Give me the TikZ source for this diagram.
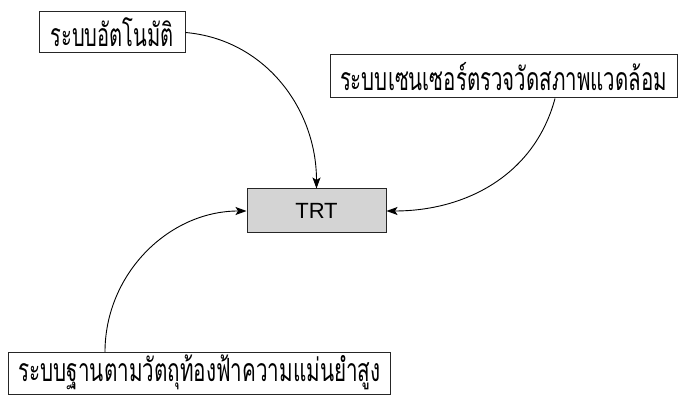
\documentclass[tikz,border=0pt]{standalone}
\usepackage{fontspec}
\setmainfont{Liberation Sans}
\newfontfamily\thaifont[Script=Thai]{Loma}
\usetikzlibrary{arrows.meta}
\newcommand{\thw}[2]{\resizebox{#1}{\height}{#2}}
\begin{document}
\begin{tikzpicture}[x=1pt,y=-1pt,
  lbl/.style={draw=black!85,line width=1pt,fill=white,inner sep=0pt,font=\thaifont\fontsize{32}{34}\selectfont},
  conn/.style={line width=0.9pt,-{Stealth[length=11pt,width=8pt,inset=2.5pt]}}]
\useasboundingbox (0,0) rectangle (678,395);
\node[lbl,minimum width=146pt,minimum height=41pt] (auto) at (112,32.5) {\thw{123pt}{ระบบอัตโนมัติ}};
\node[lbl,minimum width=347pt,minimum height=43pt] (sens) at (503.5,76.5) {\thw{327pt}{ระบบเซนเซอร์ตรวจวัดสภาพแวดล้อม}};
\node[lbl,minimum width=382pt,minimum height=42pt,text height=22pt,text depth=6pt,anchor=north west] (base) at (8,352) {\thw{362pt}{ระบบฐานตามวัตถุท้องฟ้าความแม่นยำสูง}};
\node[draw=black!85,line width=1pt,fill=black!17,minimum width=139pt,minimum height=44pt,font=\fontsize{22}{24}\selectfont] (trt) at (316.5,211) {TRT};
\draw[conn] (auto.east) to[out=-5,in=90] (trt.north);
\draw[conn] (sens.south -| 555,0) to[out=-105,in=0] (trt.east);
\draw[conn] (base.north -| 105,0) to[out=90,in=180] (trt.west);
\end{tikzpicture}
\end{document}
